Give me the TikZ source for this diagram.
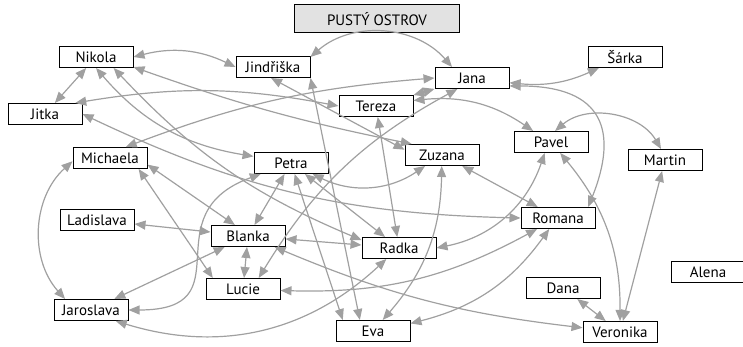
\documentclass[tikz,border=0pt]{standalone}
\usepackage{fontspec}
\setmainfont{PT Sans}
\usetikzlibrary{arrows.meta}
\definecolor{edgegray}{RGB}{160,160,160}
\definecolor{titlegray}{RGB}{226,226,226}

\begin{document}
\begin{tikzpicture}[x=1pt, y=1pt, >={Triangle[length=11pt,width=9pt]},
  main/.style = {draw, rectangle, fill=white, line width=1pt, minimum width=74pt, minimum height=21pt, inner sep=0pt, font=\fontsize{15}{17}\selectfont},
  head/.style = {main, fill=titlegray, minimum width=165pt, minimum height=28pt},
  link/.style = {<->, draw=edgegray, line width=1.2pt}]
\useasboundingbox (0,0) rectangle (743,347);
\node[head] (0) at (377,328) {PUSTÝ OSTROV};
\node[main] (1) at (96,290) {Nikola};
\node[main] (2) at (273,280) {Jindřiška};
\node[main] (3) at (472,269) {Jana};
\node[main] (4) at (625,290) {Šárka};
\node[main] (5) at (45,233) {Jitka};
\node[main] (6) at (376,241) {Tereza};
\node[main] (7) at (551,205) {Pavel};
\node[main] (8) at (665,187) {Martin};
\node[main] (9) at (110,189) {Michaela};
\node[main] (10) at (291,184) {Petra};
\node[main] (11) at (442,192) {Zuzana};
\node[main] (12) at (97,127) {Ladislava};
\node[main] (13) at (248,111) {Blanka};
\node[main] (14) at (399,99) {Radka};
\node[main] (15) at (558,129) {Romana};
\node[main] (16) at (708,75) {Alena};
\node[main] (17) at (243,58) {Lucie};
\node[main] (18) at (563,59) {Dana};
\node[main] (19) at (91,37) {Jaroslava};
\node[main] (20) at (373,16) {Eva};
\node[main] (21) at (620,15) {Veronika};

% vztahy
\draw[link] (1.east) to[bend left=20] (2.west);
\draw[link] (1) -- (5);
\draw[link] (1.south) to[bend right=20] (10.170);
\draw[link] (1.-32) to[bend right=12] (14.168);
\draw[link] (1.-15) to[bend right=4] (11.160);
\draw[link] (2.15) to[bend left=45] ([xshift=-20pt]3.north);
\draw[link] (2.south east) -- (20.140);
\draw[link] (2.-100) -- (11.172);
\draw[link] (3) to[bend right=15] (4);
\draw[link] (3) -- (6);
\draw[link] (3.-12) .. controls +(95,0) and +(30,75) .. (15.20);
\draw[link] (3.217) to[bend right=15] (17.35);
\draw[link] (9.35) to[bend left=8] (3.west);
\draw[link] (5.20) to[bend left=10] (6.west);
\draw[link] (5.east) to[bend right=12] (15.west);
\draw[link] (6) to[bend left=20] (7);
\draw[link] (6) -- (14);
\draw[link] (7.70) to[bend left=50] (8.110);
\draw[link] (7) to[bend left=20] (21);
\draw[link] (7.-120) to[bend left=30] (14.east);
\draw[link] (8) -- (21);
\draw[link] (18) -- (21);
\draw[link] (13) to[bend right=8] (21);
\draw[link] (9.-10) -- (13.140);
\draw[link] (9.-21) -- (17.160);
\draw[link] (9.185) to[bend right=45] (19.157);
\draw[link] (12) -- (13);
\draw[link] (13) -- (19);
\draw[link] (19) to[out=0,in=200,looseness=1.6] (10);
\draw[link] (19.-24) to[bend right=30] (14.-139);
\draw[link] (13) -- (17);
\draw[link] (13) -- (10);
\draw[link] (13) -- (14);
\draw[link] (10) -- (14);
\draw[link] (10) -- (20.160);
\draw[link] (10) to[bend right=30] (11);
\draw[link] (11) to[bend left=20] (20);
\draw[link] (11) -- (15);
\draw[link] (17) to[bend right=15] (15);
\draw[link] (20) to[bend right=20] (15);
\end{tikzpicture}
\end{document}
